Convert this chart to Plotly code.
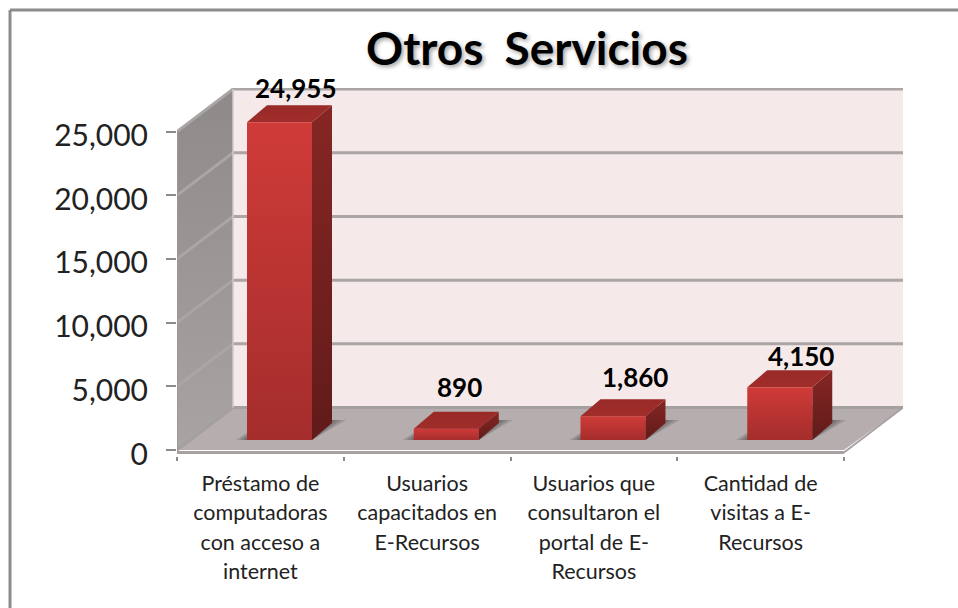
import plotly.graph_objects as go

categories = [
    ["Préstamo de", "computadoras", "con acceso a", "internet"],
    ["Usuarios", "capacitados en", "E-Recursos"],
    ["Usuarios que", "consultaron el", "portal de E-", "Recursos"],
    ["Cantidad de", "visitas a E-", "Recursos"],
]
values = [24955, 890, 1860, 4150]
value_labels = ["24,955", "890", "1,860", "4,150"]
y_ticks = [0, 5000, 10000, 15000, 20000, 25000]
y_tick_labels = ["0", "5,000", "10,000", "15,000", "20,000", "25,000"]
title_text = "Otros Servicios"

# Pixel scales of the plot area (only used to express the 3-D projection)
PX_X = 166.75            # px per category
PX_Y = 318.4 / 25000     # px per value unit
def dx(px): return px / PX_X
def dy(px): return px / PX_Y

DEPTH_X, DEPTH_Y = dx(56), dy(42.5)
BAR_LEFT, BAR_W = dx(70), dx(65)
BAR_BASE = dy(10)
BAR_DX, BAR_DY = dx(20), dy(17)
N = len(categories)
X_MAX = dx(726)
Y_MIN, Y_MAX = dy(-6), dy(362)

fig = go.Figure()

def poly(xs, ys, color=None, gradient=None):
    xs = list(xs) + [xs[0]]
    ys = list(ys) + [ys[0]]
    kw = dict(x=xs, y=ys, mode="lines", fill="toself", hoverinfo="skip", showlegend=False,
              line=dict(width=0, color="rgba(0,0,0,0)"))
    if gradient:
        # gradient is given (bottom colour, top colour)
        kw["fillgradient"] = dict(type="vertical", colorscale=[[0, gradient[0]], [1, gradient[1]]])
    else:
        kw["fillcolor"] = color
    fig.add_trace(go.Scatter(**kw))

def seg(xs, ys, color, width):
    fig.add_trace(go.Scatter(x=xs, y=ys, mode="lines", hoverinfo="skip", showlegend=False,
                             line=dict(color=color, width=width)))

top = y_ticks[-1]
# back wall
poly([DEPTH_X, X_MAX, X_MAX, DEPTH_X], [DEPTH_Y, DEPTH_Y, top + DEPTH_Y, top + DEPTH_Y], "#F5E9E9")
# side wall
poly([0, DEPTH_X, DEPTH_X, 0], [0, DEPTH_Y, top + DEPTH_Y, top],
     gradient=("#A9A4A4", "#8E8A8A"))
# floor
poly([0, DEPTH_X, X_MAX, N], [0, DEPTH_Y, DEPTH_Y, 0], "#B6AEAE")
# front floor edge
seg([0, N], [dy(-2.5), dy(-2.5)], "#A8A1A1", 3)
seg([N, X_MAX], [dy(-2.5), DEPTH_Y], "#A8A1A1", 2)
# gridlines on walls
for v in y_ticks[1:]:
    seg([0, DEPTH_X, X_MAX], [v, v + DEPTH_Y, v + DEPTH_Y], "#ABA5A5", 3)
seg([0, DEPTH_X, X_MAX], [0, DEPTH_Y, DEPTH_Y], "#A5A0A0", 3)
seg([DEPTH_X, DEPTH_X], [DEPTH_Y, top + DEPTH_Y], "#CFCACA", 1.5)
seg([0, 0], [dy(-2.5), top], "#9C9898", 2)

# bars
for i, v in enumerate(values):
    x0 = i + BAR_LEFT
    x1 = x0 + BAR_W
    b = BAR_BASE
    t = b + v
    # floor shadow, soft by stacking
    for grow, alpha in ((dx(14), 0.25), (dx(9), 0.3), (dx(4), 0.35)):
        poly([x0 - grow * 0.8, x1, x1 + BAR_DX + grow, x0 + BAR_DX],
             [b, b, b + BAR_DY + dy(3), b + BAR_DY + dy(3)],
             f"rgba(85,78,78,{alpha})")
    # side
    poly([x1, x1 + BAR_DX, x1 + BAR_DX, x1],
         [b, b + BAR_DY, t + BAR_DY, t], gradient=("#611B1A", "#862624"))
    # top
    poly([x0, x0 + BAR_DX, x1 + BAR_DX, x1],
         [t, t + BAR_DY, t + BAR_DY, t], gradient=("#A02D2A", "#982A28"))
    # front
    poly([x0, x1, x1, x0], [b, b, t, t], gradient=("#A42D2C", "#CF3B38"))

# value labels
label_nudge = [(16, 34), (13, 42), (22, 39), (21, 31)]
for i, (v, lab) in enumerate(zip(values, value_labels)):
    fig.add_annotation(x=i + BAR_LEFT + BAR_W / 2, y=BAR_BASE + v, xref="x", yref="y",
                       text=f"<b>{lab}</b>", showarrow=False,
                       xshift=label_nudge[i][0], yshift=label_nudge[i][1],
                       font=dict(family="Lato", size=26, color="#000000"))

# image frame (top and left only)
fig.add_shape(type="line", xref="paper", yref="paper", x0=-0.23, x1=1.1, y0=1.212, y1=1.212,
              line=dict(color="#8C8C8C", width=3), layer="below")
fig.add_shape(type="line", xref="paper", yref="paper", x0=-0.23, x1=-0.23, y0=-0.5, y1=1.212,
              line=dict(color="#8C8C8C", width=3), layer="below")

tick_text = ["<br>".join(f'<span style="font-size:21.5px">{s}</span>' for s in c) for c in categories]

fig.update_layout(
    width=958, height=608, autosize=False,
    margin=dict(l=177, r=55, t=88, b=152),
    paper_bgcolor="white", plot_bgcolor="white",
    font=dict(family="Lato", color="#000000"),
    title=dict(text=f'<b><span style="word-spacing:10px">{title_text}</span></b>',
               x=527 / 958, xanchor="center", y=1 - 49 / 608, yanchor="middle",
               font=dict(family="Lato", size=46, color="#000000", shadow="2px 2px 4px #a0a0a0")),
    xaxis=dict(range=[0, X_MAX], showgrid=False, zeroline=False, showline=False,
               tickmode="array", tickvals=[i + 0.5 for i in range(N)], ticktext=tick_text,
               ticks="", ticklen=0, tickangle=0, tickfont=dict(size=22.7, family="Lato", color="#222222"),
               ticklabelstandoff=11,
               minor=dict(tickmode="array", tickvals=list(range(N + 1)), ticks="outside", ticklen=4,
                          tickcolor="#8C8C8C", tickwidth=1.5, showgrid=False)),
    yaxis=dict(range=[Y_MIN, Y_MAX], showgrid=False, zeroline=False, showline=False,
               tickmode="array", tickvals=y_ticks, ticktext=y_tick_labels,
               ticks="outside", ticklen=10, tickcolor="#8C8C8C", tickwidth=1.5,
               ticklabelstandoff=12, ticklabelshift=4,
               tickfont=dict(size=30, family="Lato", color="#222222")),
)

fig.write_html("out.html", config=dict(displayModeBar=False),
               post_script="document.body.style.margin='0';document.body.style.overflow='hidden';")
